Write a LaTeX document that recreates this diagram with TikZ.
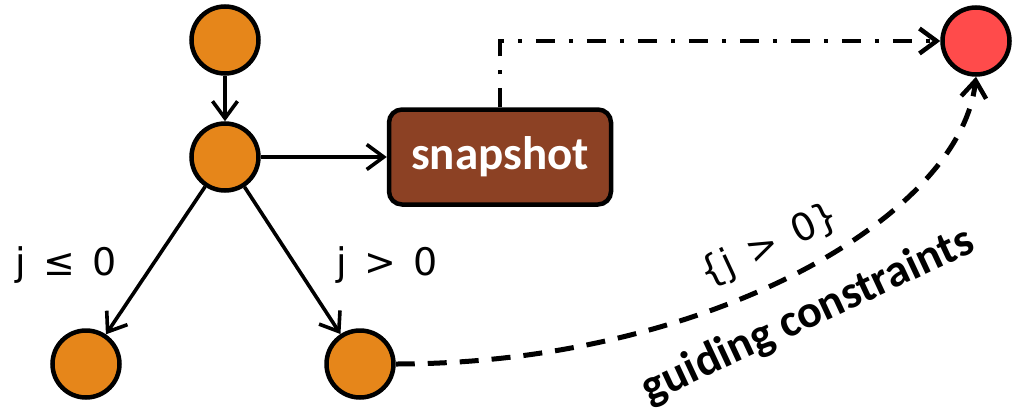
\documentclass[tikz,border=0pt]{standalone}
\usepackage{fontspec}
\setmainfont{Carlito}
\newfontfamily\handfont{DejaVu Sans}
\usetikzlibrary{arrows.meta}

\definecolor{stateorange}{HTML}{E6861A}
\definecolor{targetred}{HTML}{FF4B4B}
\definecolor{snapbrown}{HTML}{8C4124}

\newcommand\wgap{\hspace{17pt}}

\tikzset{
  state/.style={circle, draw=black, line width=4.5pt, fill=stateorange,
    minimum size=67pt, inner sep=0pt},
  target/.style={state, fill=targetred},
  snapbox/.style={draw=black, line width=4.5pt, fill=snapbrown,
    rounded corners=13pt, minimum width=222pt, minimum height=95pt,
    text=white, font=\fontsize{47}{50}\selectfont\bfseries},
  edge/.style={line width=3.6pt, -{Straight Barb[length=17pt,width=25pt,line width=3.6pt]}},
  linkdashdot/.style={line width=4.5pt, dash pattern=on 19pt off 14pt on 4pt off 14pt,
    -{Straight Barb[length=17pt,width=25pt,line width=4.5pt]}},
  guide/.style={line width=5pt, dash pattern=on 19pt off 13pt,
    -{Straight Barb[length=17pt,width=25pt,line width=4.5pt]}},
  hand/.style={font=\handfont\fontsize{38}{44}\selectfont, inner sep=0pt},
  boldlabel/.style={font=\fontsize{46}{50}\selectfont\bfseries, inner sep=0pt},
}

\begin{document}
\begin{tikzpicture}[x=1pt, y=-1pt]
\useasboundingbox (0,0) rectangle (1012,415);

% tree of states
\node[state] (root) at (225,40) {};
\node[state] (mid) at (225,157) {};
\node[state] (left) at (86,364) {};
\node[state] (right) at (360,364) {};

% snapshot and the state it leads to
\node[snapbox] (snap) at (500,157) {snapshot};
\node[target] (goal) at (976,41) {};

\draw[edge] (root) -- (mid);
\draw[edge] (mid) -- (snap);
\draw[edge] (mid) -- (left);
\draw[edge] (mid) -- (right);

\draw[linkdashdot] (snap.north) |- (goal.west);
\draw[guide] (right.east) .. controls (700,364) and (960,220) .. (goal.south);

% branch conditions
\node[hand] (condle) at (66,265) {j\wgap≤\wgap0};
\node[hand] (condgt) at (387,265) {j\wgap>\wgap0};
\node[hand, rotate=25] (constr) at (770,246) {\{j\wgap>\wgap0\}};
\node[boldlabel, rotate=25] (guidelbl) at (808,316) {guiding constraints};
\end{tikzpicture}
\end{document}
